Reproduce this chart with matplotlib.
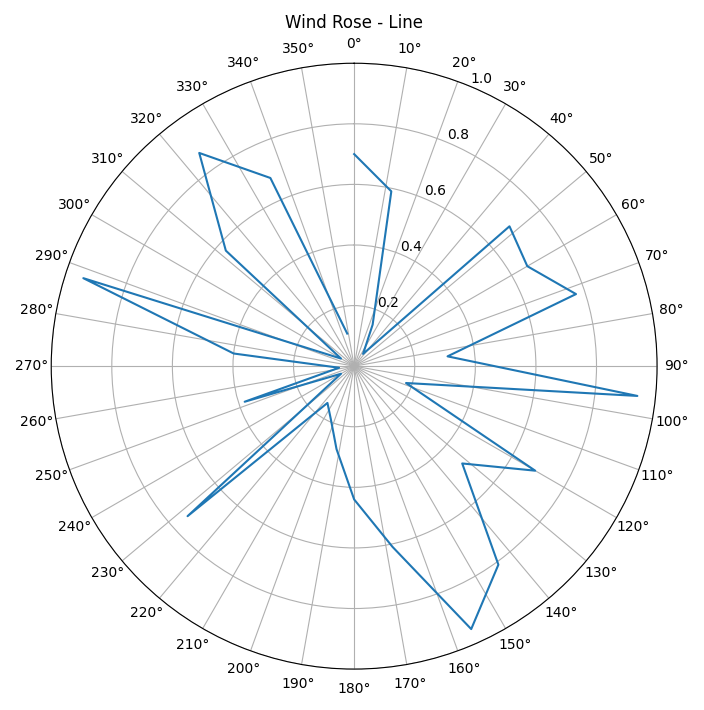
import numpy as np
import matplotlib
matplotlib.use("Agg")
import matplotlib.pyplot as plt

angles_deg = list(range(0, 360, 12))
values = [0.70, 0.59, 0.15, 0.05, 0.69, 0.66, 0.77, 0.31, 0.94, 0.18,
          0.69, 0.48, 0.81, 0.95, 0.61, 0.44, 0.28, 0.19, 0.15, 0.74,
          0.05, 0.38, 0.05, 0.40, 0.94, 0.05, 0.57, 0.87, 0.68, 0.11]

fig = plt.figure(figsize=(7.04, 7.1), dpi=100)
ax = fig.add_subplot(111, projection='polar')
ax.plot(np.deg2rad(angles_deg), values, color='#1f77b4')
ax.set_theta_zero_location('N')
ax.set_theta_direction(-1)
ax.set_thetagrids(range(0, 360, 10), [f"{a}°" for a in range(0, 360, 10)])
ax.set_ylim(0, 1.0)
ax.set_yticks([0.2, 0.4, 0.6, 0.8, 1.0])
ax.set_title("Wind Rose - Line")
plt.tight_layout()
fig.savefig("out.png", dpi=100)
